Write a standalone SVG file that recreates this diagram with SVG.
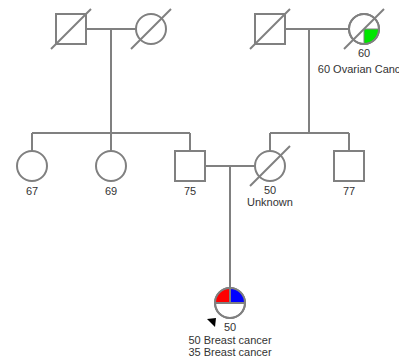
<svg xmlns="http://www.w3.org/2000/svg" width="399" height="360" viewBox="0 0 399 360">
<style>
.n{fill:#fff;stroke:#808080;stroke-width:2}
.l{stroke:#808080;stroke-width:2;fill:none}
.d{stroke:#808080;stroke-width:2}
text{font-family:"Liberation Sans",Arial,sans-serif;font-size:11px;fill:#333;text-anchor:middle}
</style>
<rect width="399" height="360" fill="#fff"/>
<g id="connectors">
<path class="l" d="M86,29H136M111,29V133M32,133H190M32,133V151M111,133V151M190,133V151"/>
<path class="l" d="M285,29H349M309,29V133M270,133H349M270,133V151M349,133V151"/>
<path class="l" d="M205,166H255M230,166V288"/>
</g>
<g id="gf">
<rect class="n" x="56" y="14" width="30" height="30"/>
<line class="d" x1="51" y1="49" x2="91" y2="9"/>
</g>
<g id="gm">
<circle class="n" cx="151" cy="29" r="15"/>
<line class="d" x1="131" y1="49" x2="171" y2="9"/>
</g>
<g id="mgf">
<rect class="n" x="255" y="14" width="30" height="30"/>
<line class="d" x1="250" y1="49" x2="290" y2="9"/>
</g>
<g id="mgm">
<circle class="n" cx="364" cy="29" r="15"/>
<path d="M364,29H379A15,15 0 0 1 364,44Z" fill="#00e600" stroke="#808080" stroke-width="1"/>
<circle cx="364" cy="29" r="15" fill="none" stroke="#808080" stroke-width="2"/>
<line class="d" x1="344" y1="49" x2="384" y2="9"/>
<text x="364" y="57">60</text>
<text x="364" y="73">60 Ovarian Cancer</text>
</g>
<g id="a67">
<circle class="n" cx="32" cy="166" r="15"/>
<text x="32" y="195">67</text>
</g>
<g id="a69">
<circle class="n" cx="111" cy="166" r="15"/>
<text x="111" y="195">69</text>
</g>
<g id="f75">
<rect class="n" x="175" y="151" width="30" height="30"/>
<text x="190" y="195">75</text>
</g>
<g id="m50">
<circle class="n" cx="270" cy="166" r="15"/>
<line class="d" x1="250" y1="186" x2="290" y2="146"/>
<text x="270" y="194">50</text>
<text x="270" y="206">Unknown</text>
</g>
<g id="u77">
<rect class="n" x="334" y="151" width="30" height="30"/>
<text x="349" y="195">77</text>
</g>
<g id="proband">
<circle class="n" cx="230" cy="303" r="15"/>
<path d="M230,303H215A15,15 0 0 1 230,288Z" fill="#f00"/>
<path d="M230,303V288A15,15 0 0 1 245,303Z" fill="#00f"/>
<path class="l" d="M215,303H245M230,288V303"/>
<circle cx="230" cy="303" r="15" fill="none" stroke="#808080" stroke-width="2"/>
<polygon points="207,319 216,318 215,327" fill="#000"/>
<text x="230" y="331">50</text>
<text x="230" y="344">50 Breast cancer</text>
<text x="230" y="356">35 Breast cancer</text>
</g>
</svg>
